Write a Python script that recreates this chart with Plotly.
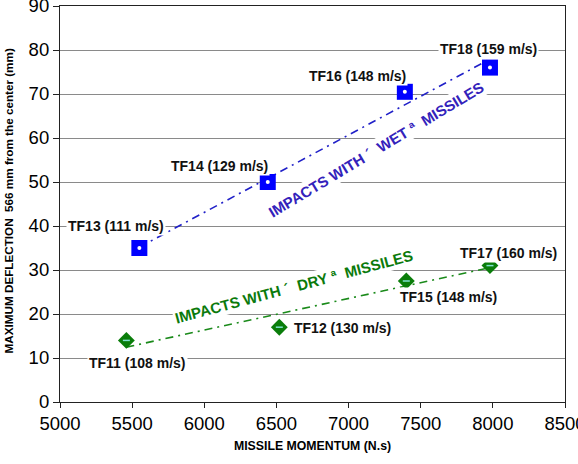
import numpy as np
import plotly.graph_objects as go

# ---- data ----
wet_names = ["TF13 (111 m/s)", "TF14 (129 m/s)", "TF16 (148 m/s)", "TF18 (159 m/s)"]
wet_momentum = [5550, 6440, 7390, 7980]
wet_deflection = [35, 50, 70.5, 76]

dry_names = ["TF11 (108 m/s)", "TF12 (130 m/s)", "TF15 (148 m/s)", "TF17 (160 m/s)"]
dry_momentum = [5460, 6520, 7400, 7980]
dry_deflection = [14, 17, 27.5, 31]

wet_label = "IMPACTS WITH\u00a0\u00b4\u00a0\u00a0WET\u00a0\u00aa\u00a0\u00a0MISSILES"
dry_label = "IMPACTS WITH\u00a0\u00b4\u00a0\u00a0DRY\u00a0\u00aa\u00a0\u00a0MISSILES"

x_title = "MISSILE MOMENTUM (N.s)"
y_title = "MAXIMUM DEFLECTION  566 mm from the center (mm)"

# label offsets in pixels (layout)
wet_shift = [(-23, 22), (-48, 16), (-47, 16), (-1, 19)]
dry_shift = [(11, -23), (63, -1), (42, -16), (19, 13)]

FONT = "Arial, 'Liberation Sans', sans-serif"
BLUE = "#0000ff"
BLUE_LINE = "#2020c8"
BLUE_TEXT = "#3322bb"
GREEN = "#0a7d0a"
GREEN_LINE = "#1a8a1a"
GREEN_TEXT = "#0b7a0b"

fig = go.Figure()


def trend(x, y):
    k, b = np.polyfit(x, y, 1)
    xs = np.array([min(x), max(x)])
    return xs, k * xs + b


wx, wy = trend(wet_momentum, wet_deflection)
dx, dy = trend(dry_momentum, dry_deflection)

fig.add_trace(go.Scatter(x=wx, y=wy, mode="lines",
                         line=dict(color=BLUE_LINE, width=1.6, dash="8px,5px,2px,5px"),
                         hoverinfo="skip"))
fig.add_trace(go.Scatter(x=dx, y=dy, mode="lines",
                         line=dict(color=GREEN_LINE, width=1.6, dash="8px,5px,2px,5px"),
                         hoverinfo="skip"))

fig.add_trace(go.Scatter(x=wet_momentum, y=wet_deflection, mode="markers",
                         marker=dict(symbol="square", size=16, color=BLUE, line=dict(width=0))))
fig.add_trace(go.Scatter(x=wet_momentum, y=wet_deflection, mode="markers",
                         marker=dict(symbol="circle", size=4, color="white", line=dict(width=0))))
fig.add_trace(go.Scatter(x=dry_momentum, y=dry_deflection, mode="markers",
                         marker=dict(symbol="diamond", size=13, color=GREEN, line=dict(width=0))))
fig.add_trace(go.Scatter(x=dry_momentum, y=dry_deflection, mode="markers",
                         marker=dict(symbol="line-ew", size=5, color="#80e0d0",
                                     line=dict(width=1.5, color="#80e0d0"))))

annotations = []
for name, xv, yv, (sx, sy) in zip(wet_names + dry_names,
                                  wet_momentum + dry_momentum,
                                  wet_deflection + dry_deflection,
                                  wet_shift + dry_shift):
    annotations.append(dict(x=xv, y=yv, xref="x", yref="y", text=name, showarrow=False,
                            xshift=sx, yshift=sy, bgcolor="white", borderpad=1,
                            font=dict(family=FONT, size=14, color="#111", weight="bold")))

annotations.append(dict(x=7190, y=57.5, xref="x", yref="y", text=wet_label, showarrow=False,
                        textangle=-31, bgcolor="white",
                        font=dict(family=FONT, size=15, color=BLUE_TEXT, weight="bold")))
annotations.append(dict(x=6622, y=26.3, xref="x", yref="y", text=dry_label, showarrow=False,
                        textangle=-15, bgcolor="white",
                        font=dict(family=FONT, size=15, color=GREEN_TEXT, weight="bold")))

# y-axis title placed as a rotated annotation
annotations.append(dict(x=-0.103, y=0.509, xref="paper", yref="paper", text=y_title,
                        showarrow=False, textangle=-90, xanchor="center", yanchor="middle",
                        font=dict(family=FONT, size=11.7, color="black", weight="bold")))

fig.update_layout(
    width=578, height=464,
    margin=dict(l=60, r=13, t=6, b=62, autoexpand=False),
    paper_bgcolor="white", plot_bgcolor="white",
    showlegend=False,
    font=dict(family=FONT, color="black"),
    annotations=annotations,
    xaxis=dict(range=[5000, 8500], dtick=500, tick0=5000, automargin=False,
               showgrid=False, zeroline=False,
               showline=True, linecolor="#222", linewidth=1.2, mirror=True,
               ticks="outside", ticklen=5, tickcolor="#222",
               ticklabeloverflow="allow",
               tickfont=dict(size=18.5, family=FONT, color="black"),
               title=dict(text=x_title, standoff=8,
                          font=dict(size=12.3, family=FONT, color="black", weight="bold"))),
    yaxis=dict(range=[0, 90], dtick=10, tick0=0, automargin=False,
               showgrid=True, gridcolor="#8a8a8a", gridwidth=1, zeroline=False,
               showline=True, linecolor="#222", linewidth=1.2, mirror=True,
               ticks="outside", ticklen=6, tickcolor="#222",
               ticklabeloverflow="allow",
               tickfont=dict(size=18.5, family=FONT, color="black")),
)

fig.write_html("out.html")
